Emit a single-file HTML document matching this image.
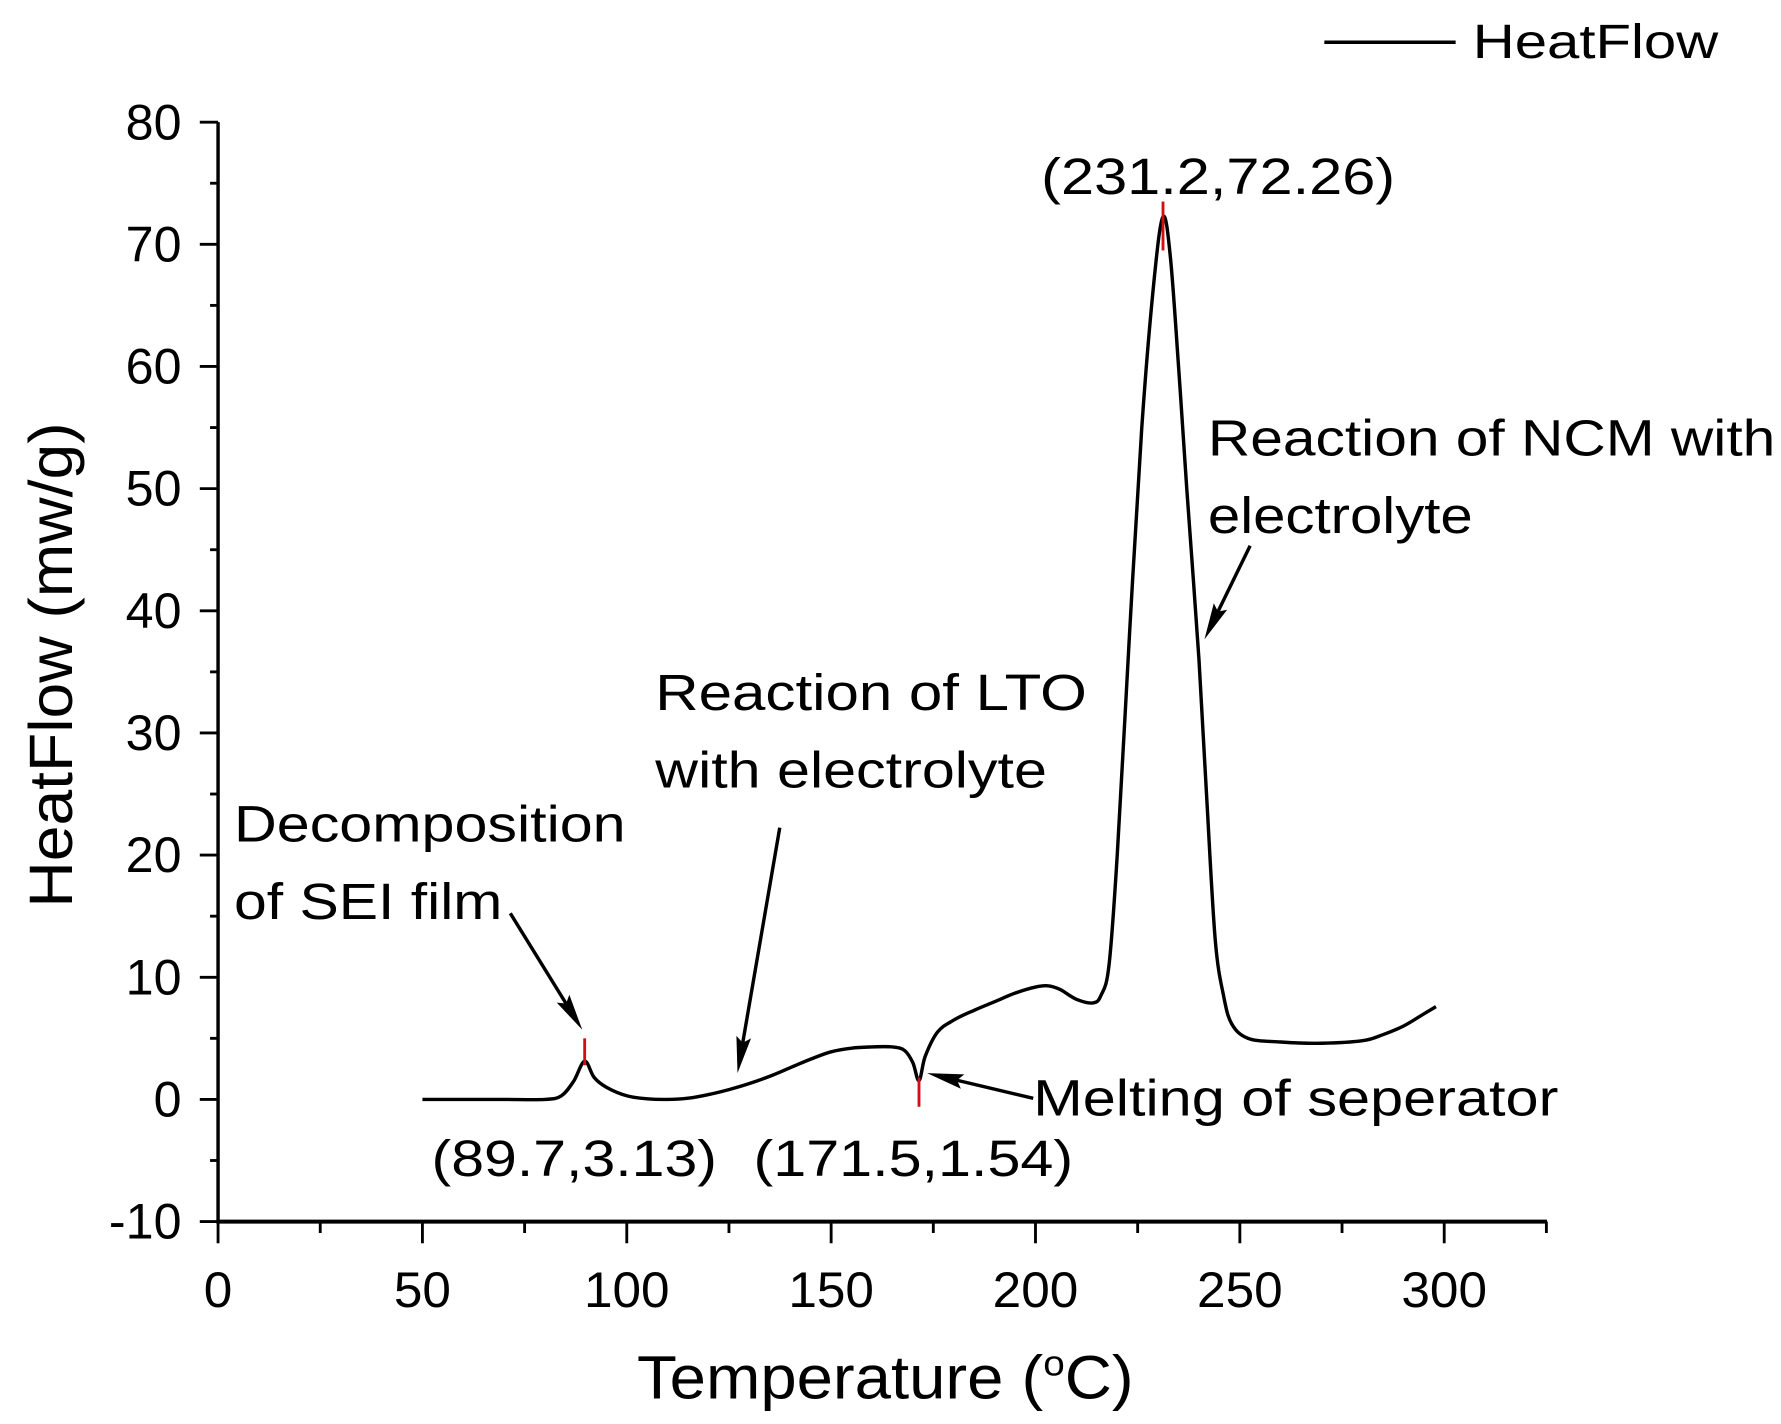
<!DOCTYPE html>
<html><head><meta charset="utf-8"><style>
html,body{margin:0;padding:0;background:#fff;}
svg{display:block;font-family:"Liberation Sans",Arial,sans-serif;}
</style></head><body>
<svg id="chart" width="1781" height="1424" viewBox="0 0 1560 1247.3" preserveAspectRatio="none" xmlns="http://www.w3.org/2000/svg">
<g id="axes"></g>
<g id="plot"></g>
<g>
<line x1="1160" y1="37" x2="1275" y2="37" stroke="#000" stroke-width="3"/>
<text x="1290" y="51" font-size="42" textLength="215" lengthAdjust="spacingAndGlyphs">HeatFlow</text>
</g>
<text x="558" y="1225" font-size="54" textLength="435" lengthAdjust="spacingAndGlyphs">Temperature (<tspan font-size="32" dy="-20">o</tspan><tspan dy="20">C)</tspan></text>
<text transform="translate(63,795) rotate(-90)" font-size="54" textLength="425" lengthAdjust="spacingAndGlyphs">HeatFlow (mw/g)</text>
<g font-size="45">
<text x="912" y="170" textLength="310" lengthAdjust="spacingAndGlyphs">(231.2,72.26)</text>
<text x="1058" y="399" textLength="497" lengthAdjust="spacingAndGlyphs">Reaction of NCM with</text>
<text x="1058" y="467" textLength="232" lengthAdjust="spacingAndGlyphs">electrolyte</text>
<text x="574" y="622" textLength="378" lengthAdjust="spacingAndGlyphs">Reaction of LTO</text>
<text x="574" y="690" textLength="343" lengthAdjust="spacingAndGlyphs">with electrolyte</text>
<text x="205" y="737" textLength="343" lengthAdjust="spacingAndGlyphs">Decomposition</text>
<text x="205" y="805" textLength="235" lengthAdjust="spacingAndGlyphs">of SEI film</text>
<text x="905" y="977" textLength="460" lengthAdjust="spacingAndGlyphs">Melting of seperator</text>
<text x="378" y="1030" textLength="250" lengthAdjust="spacingAndGlyphs">(89.7,3.13)</text>
<text x="660" y="1030" textLength="280" lengthAdjust="spacingAndGlyphs">(171.5,1.54)</text>
</g>
<g id="arrows"></g>
</svg>
<script>
const temps = [50,60,70,80,84,87,89.7,92,95,100,105,110,115,120,125,130,135,140,145,150,155,160,165,168,170,171.5,173,176,180,185,190,195,200,203,206,210,214,216,218,220,223,226,229,231.2,233,235,237,240,242,244,246,248,252,260,270,280,285,290,295,298];
const heat = [0,0,0,0,0.3,1.5,3.13,1.8,1,0.3,0.05,0,0.1,0.4,0.8,1.3,1.9,2.6,3.3,3.9,4.2,4.3,4.3,4.0,3.0,1.54,3.5,5.5,6.5,7.3,8.0,8.7,9.2,9.3,9.0,8.2,7.9,8.5,11,20,38,55,67,72.26,69,60,50,36,24,13,8.5,6.2,5,4.7,4.6,4.8,5.3,6,7,7.6];
const xTicks = [0,50,100,150,200,250,300];
const yTicks = [-10,0,10,20,30,40,50,60,70,80];
const peakT = [89.7,171.5,231.2];
const peakLo = [2.8,-0.6,69.5];
const peakHi = [5,1.8,73.5];

const NS="http://www.w3.org/2000/svg";
const X = t => 191 + t*(1265-191)/300;
const Y = v => 963 - v*107/10;
function mk(tag, attrs, parent){const e=document.createElementNS(NS,tag);for(const k in attrs)e.setAttribute(k,attrs[k]);parent.appendChild(e);return e;}
const axes=document.getElementById('axes'), plot=document.getElementById('plot'), arrows=document.getElementById('arrows');

let e=mk('line',{x1:191,y1:Y(80),x2:191,y2:Y(-10)+1.5,stroke:'#000','stroke-width':3},axes);


e=mk('line',{x1:189.5,y1:Y(-10),x2:1355,y2:Y(-10),stroke:'#000','stroke-width':3.5},axes);



for(let t=0;t<=325;t+=25){
  const maj = t%50===0;
  e=mk('line',{x1:X(t),y1:Y(-10),x2:X(t),y2:Y(-10)+(maj?19:10),stroke:'#000','stroke-width':2.5},axes);
  
  
}
xTicks.forEach(t=>{
  e=mk('text',{x:X(t),y:1145,'font-size':44,'text-anchor':'middle'},axes);
  e.textContent=t;
  e.setAttribute('textLength', String(t).length*25);
  e.setAttribute('lengthAdjust','spacingAndGlyphs');
  
  
});
for(let v=-10;v<=80;v+=5){
  const maj = v%10===0;
  e=mk('line',{x1:maj?175:184,y1:Y(v),x2:191,y2:Y(v),stroke:'#000','stroke-width':2.5},axes);
  
  
}
yTicks.forEach(v=>{
  e=mk('text',{x:159,y:Y(v)+15,'font-size':44,'text-anchor':'end'},axes);
  e.textContent=v;
  
  
});

// smooth Catmull-Rom path through data points
const pts = temps.map((t,i)=>[X(t),Y(heat[i])]);
let d='M'+pts[0][0].toFixed(1)+','+pts[0][1].toFixed(1);
for(let i=0;i<pts.length-1;i++){
  const p0=pts[Math.max(i-1,0)],p1=pts[i],p2=pts[i+1],p3=pts[Math.min(i+2,pts.length-1)];
  const k=6;
  const c1=[p1[0]+(p2[0]-p0[0])/k,p1[1]+(p2[1]-p0[1])/k];
  const c2=[p2[0]-(p3[0]-p1[0])/k,p2[1]-(p3[1]-p1[1])/k];
  d+=' C'+c1.map(n=>n.toFixed(1)).join(',')+' '+c2.map(n=>n.toFixed(1)).join(',')+' '+p2[0].toFixed(1)+','+p2[1].toFixed(1);
}
e=mk('path',{d:d,fill:'none',stroke:'#000','stroke-width':3,'stroke-linejoin':'round'},plot);


peakT.forEach((t,i)=>{
  e=mk('line',{x1:X(t),y1:Y(peakLo[i]),x2:X(t),y2:Y(peakHi[i]),stroke:'#d01010','stroke-width':2.5},plot);
  
  
});

function arrow(x1,y1,x2,y2,name){
  const g=mk('g',{},arrows);
  
  
  const L=Math.hypot(x2-x1,y2-y1), ux=(x2-x1)/L, uy=(y2-y1)/L, hl=32, hw=6.5;
  const bx=x2-ux*hl, by=y2-uy*hl;
  mk('line',{x1:x1,y1:y1,x2:bx+ux*6,y2:by+uy*6,stroke:'#000','stroke-width':3},g);
  mk('polygon',{points:`${x2},${y2} ${bx-uy*hw},${by+ux*hw} ${bx+ux*5},${by+uy*5} ${bx+uy*hw},${by-ux*hw}`,fill:'#000'},g);
}
arrow(1095,478,1055,560,'ncm-arrow');
arrow(683,725,646,940,'lto-arrow');
arrow(447,800,510,902,'sei-arrow');
arrow(905,962,812,940,'separator-arrow');
</script>
</body></html>
